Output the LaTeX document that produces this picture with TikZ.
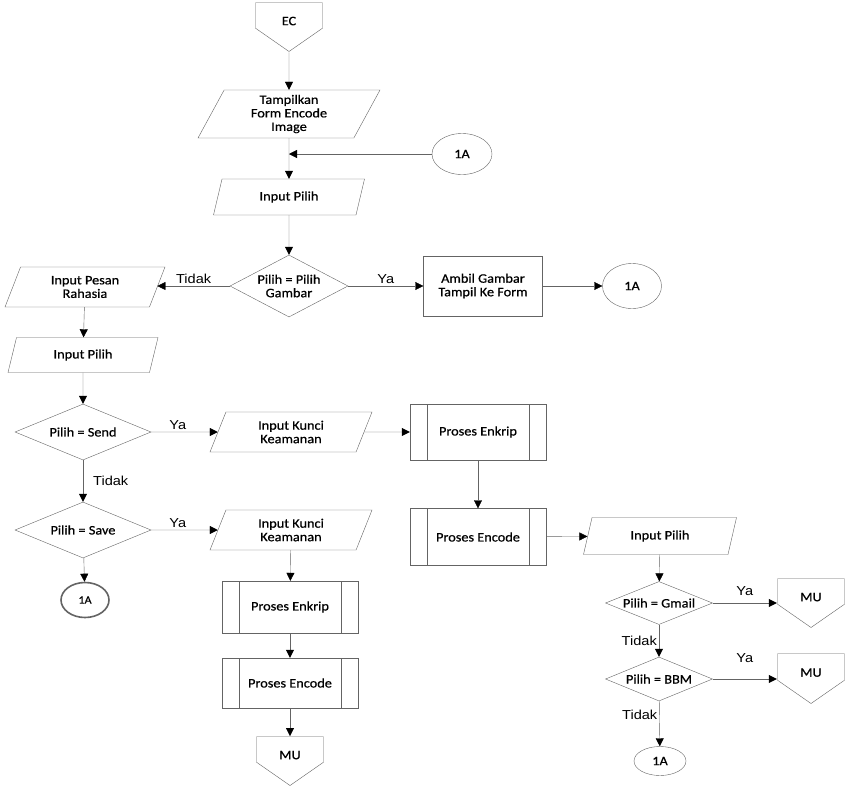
\documentclass[tikz,border=0pt]{standalone}
\usepackage{fontspec}
\setmainfont{Carlito}[FakeStretch=1.1, FakeBold=0.6]
\newfontfamily\labelfont{Liberation Sans}[FakeStretch=1.12]
\usetikzlibrary{shapes.geometric,arrows.meta}
\definecolor{linegray}{RGB}{100,100,100}
\newcommand{\offtxt}[1]{\raisebox{2pt}[0pt][0pt]{#1}}

\begin{document}
\begin{tikzpicture}[
		x=1pt, y=-1pt,
		font=\fontsize{13}{13.5}\selectfont,
		every node/.style={align=center, inner sep=1},
		io/.style={trapezium, trapezium left angle=57, trapezium right angle=123,
			trapezium stretches body, draw=linegray},
		decision/.style={diamond, aspect=2.4, inner sep=0, draw=linegray},
		box/.style={rectangle, draw=linegray},
		proc/.style={rectangle, draw=linegray, minimum width=136,
			path picture={\draw[linegray]
				([xshift=17]path picture bounding box.north west) -- ([xshift=17]path picture bounding box.south west)
				([xshift=-17]path picture bounding box.north east) -- ([xshift=-17]path picture bounding box.south east);}},
		conn/.style={ellipse, draw=linegray},
		offpage/.style={rectangle, minimum width=68, minimum height=50, anchor=north,
			path picture={\draw[linegray]
				([xshift=.5,yshift=-.5]path picture bounding box.north west) -- ([xshift=-.5,yshift=-.5]path picture bounding box.north east)
				-- ([xshift=-.5,yshift=24]path picture bounding box.south east) -- ([yshift=.7]path picture bounding box.south)
				-- ([xshift=.5,yshift=24]path picture bounding box.south west) -- cycle;}},
		arr/.style={draw=linegray, -{Triangle[length=8pt,width=8pt,color=black]}},
		lbl/.style={font=\labelfont\fontsize{13}{14}\selectfont, inner sep=2}]

		\useasboundingbox[fill=white] (0,0) rectangle (850,790);

		% main column
		\node[offpage] (ec) at (289,2) {\offtxt{EC}};
		\node[io, minimum width=182, minimum height=48] (tampil) at (289,114) {Tampilkan\\Form Encode\\Image};
		\node[conn, minimum width=60, minimum height=41] (c1a1) at (462,154) {1A};
		\node[io, minimum width=151, minimum height=36] (pilih1) at (289,197) {Input Pilih};
		\node[decision, minimum width=118, minimum height=62] (dec1) at (289,286) {Pilih = Pilih\\Gambar};
		\node[box, minimum width=119, minimum height=60] (ambil) at (483,286) {Ambil Gambar\\Tampil Ke Form};
		\node[conn, minimum width=59, minimum height=45] (c1a2) at (632,286) {1A};

		% left branch
		\node[io, minimum width=160, minimum height=40] (pesan) at (85,287) {Input Pesan\\Rahasia};
		\node[io, minimum width=150, minimum height=35] (pilih2) at (83,355) {Input Pilih};
		\node[decision, minimum width=136, minimum height=56] (send) at (83,432) {Pilih = Send};
		\node[decision, minimum width=136, minimum height=56] (save) at (83,530) {Pilih = Save};
		\node[conn, line width=1.6, minimum width=48, minimum height=35, font=\fontsize{11}{12}\selectfont] (c1a3) at (85,600) {1A};

		% send
		\node[io, minimum width=162, minimum height=40] (kunci1) at (291,432) {Input Kunci\\Keamanan};
		\node[proc, minimum height=56] (enkrip1) at (478,432) {Proses Enkrip};
		\node[proc, minimum height=57] (encode1) at (478,537) {Proses Encode};
		\node[io, minimum width=153, minimum height=37] (pilih3) at (660,536) {Input Pilih};
		\node[decision, minimum width=107, minimum height=43] (gmail) at (659,603) {Pilih = Gmail};
		\node[decision, minimum width=107, minimum height=44] (bbm) at (659,679) {Pilih = BBM};
		\node[offpage] (mu1) at (811,578) {\offtxt{MU}};
		\node[offpage, minimum height=51] (mu2) at (811,653) {\offtxt{MU}};
		\node[conn, minimum width=52, minimum height=29] (c1a4) at (660,761) {1A};

		% save
		\node[io, minimum width=162, minimum height=40] (kunci2) at (291,530) {Input Kunci\\Keamanan};
		\node[proc, minimum height=52] (enkrip2) at (290,607) {Proses Enkrip};
		\node[proc, minimum height=50] (encode2) at (290,683) {Proses Encode};
		\node[offpage] (mu3) at (290,736) {\offtxt{MU}};

		% connectors
		\draw[arr] (ec) -- (tampil);
		\draw[arr] (c1a1) -- (tampil |- c1a1);
		\draw[arr] (tampil) -- (pilih1);
		\draw[arr] (pilih1) -- (dec1);
		\draw[arr] (dec1) -- node[lbl, above]{Tidak} (dec1 -| pesan.east);
		\draw[arr] (dec1) -- node[lbl, above]{Ya} (ambil);
		\draw[arr] (ambil) -- (c1a2);
		\draw[arr] (pesan) -- (pilih2);
		\draw[arr] (pilih2) -- (send);
		\draw[arr] (send) -- node[lbl, above, pos=0.4]{Ya} (kunci1);
		\draw[arr] (send) -- node[lbl, right, xshift=8]{Tidak} (save);
		\draw[arr] (save) -- node[lbl, above, pos=0.4]{Ya} (kunci2);
		\draw[arr] (save) -- (c1a3);
		\draw[arr] (kunci1) -- (enkrip1);
		\draw[arr] (enkrip1) -- (encode1);
		\draw[arr] (encode1) -- (pilih3);
		\draw[arr] (pilih3) -- (gmail);
		\draw[arr] (gmail) -- node[lbl, above, yshift=5]{Ya} (gmail -| mu1.west);
		\draw[arr] (gmail) -- node[lbl, left]{Tidak} (bbm);
		\draw[arr] (bbm) -- node[lbl, above, yshift=14]{Ya} (bbm -| mu2.west);
		\draw[arr] (bbm) -- node[lbl, left, pos=0.3]{Tidak} (c1a4);
		\draw[arr] (kunci2) -- (enkrip2);
		\draw[arr] (enkrip2) -- (encode2);
		\draw[arr] (encode2) -- (mu3);

\end{tikzpicture}
\end{document}
